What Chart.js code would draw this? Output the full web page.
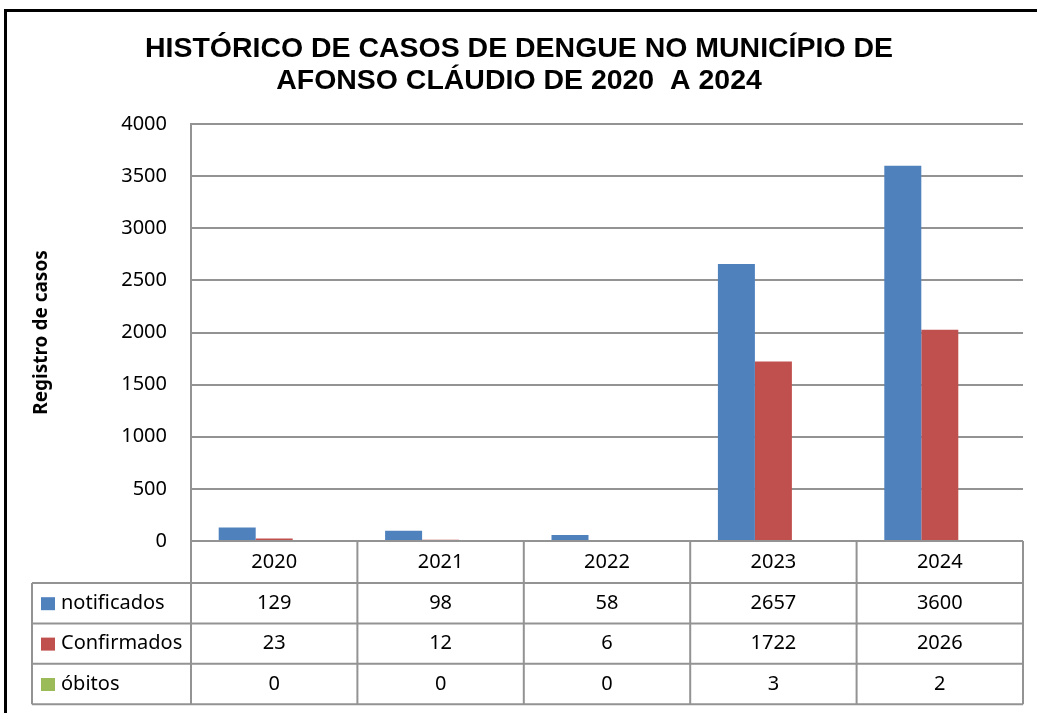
<!DOCTYPE html>
<html><head><meta charset="utf-8">
<script src="https://cdn.jsdelivr.net/npm/chart.js@4"></script>
<style>html,body{margin:0;padding:0;background:#fff}#wrap{width:1037px;height:713px;position:relative}</style>
</head><body><div id="wrap"><canvas id="c" width="1037" height="713"></canvas></div>
<script>
const titleLines = ["HISTÓRICO DE CASOS DE DENGUE NO MUNICÍPIO DE", "AFONSO CLÁUDIO DE 2020  A 2024"];
const yAxisTitle = "Registro de casos";
const years = ["2020", "2021", "2022", "2023", "2024"];
const seriesNames = ["notificados", "Confirmados", "óbitos"];
const notificados = [129, 98, 58, 2657, 3600];
const confirmados = [23, 12, 6, 1722, 2026];
const obitos = [0, 0, 0, 3, 2];
const seriesColors = ["#4F81BD", "#C0504D", "#9BBB59"];
const yMin = 0, yMax = 4000, yStep = 500;

const seriesValues = [notificados, confirmados, obitos];
const GRID = "#939393";
const TXT = "#000";
const FONT = '"Noto Sans", "Open Sans", sans-serif';

const framePlugin = {
  id: 'frame',
  beforeDraw(chart) {
    const ctx = chart.ctx;
    ctx.save();
    ctx.fillStyle = '#fff';
    ctx.fillRect(0, 0, chart.width, chart.height);
    ctx.fillStyle = '#000';
    ctx.fillRect(4, 9, chart.width - 4, 3);
    ctx.fillRect(4, 9, 3, chart.height - 9);
    ctx.font = 'bold 28px "Liberation Sans", Arial, sans-serif';
    ctx.textAlign = 'left';
    ctx.textBaseline = 'alphabetic';
    const w1 = ctx.measureText(titleLines[0]).width;
    const sx = 748 / w1;
    const baselines = [57, 89];
    const cx = 519;
    titleLines.forEach((t, i) => {
      const w = ctx.measureText(t).width * sx;
      ctx.save();
      ctx.translate(cx - w / 2, baselines[i]);
      ctx.scale(sx, 1);
      ctx.fillText(t, 0, 0);
      ctx.restore();
    });
    ctx.restore();
  }
};

const tablePlugin = {
  id: 'table',
  afterDraw(chart) {
    const ctx = chart.ctx;
    const ca = chart.chartArea;
    const x = chart.scales.x;
    const n = years.length;
    const colW = (ca.right - ca.left) / n;
    const headerBottom = ca.bottom + 42;
    const rowH = 40.4;
    const tableBottom = headerBottom + rowH * seriesNames.length;
    const leftEdge = 32;
    ctx.save();
    ctx.strokeStyle = GRID;
    ctx.lineWidth = 2;
    ctx.beginPath();
    for (let i = 0; i <= n; i++) {
      const px = (i < n ? x.getPixelForValue(i) - colW / 2 : x.getPixelForValue(n - 1) + colW / 2);
      ctx.moveTo(px, ca.bottom);
      ctx.lineTo(px, tableBottom);
    }
    ctx.moveTo(leftEdge, headerBottom);
    ctx.lineTo(leftEdge, tableBottom);
    ctx.moveTo(ca.left, ca.bottom);
    ctx.lineTo(ca.right, ca.bottom);
    for (let r = 0; r <= seriesNames.length; r++) {
      const py = headerBottom + r * rowH;
      ctx.moveTo(leftEdge, py);
      ctx.lineTo(ca.right, py);
    }
    ctx.stroke();

    ctx.fillStyle = TXT;
    ctx.font = '20px ' + FONT;
    ctx.textAlign = 'center';
    ctx.textBaseline = 'middle';
    years.forEach((yr, i) => {
      ctx.fillText(yr, x.getPixelForValue(i), (ca.bottom + headerBottom) / 2);
    });
    seriesNames.forEach((name, r) => {
      const cy = headerBottom + r * rowH + rowH / 2;
      ctx.fillStyle = seriesColors[r];
      ctx.fillRect(41, cy - 6, 14, 13);
      ctx.fillStyle = TXT;
      ctx.textAlign = 'left';
      ctx.fillText(name, 61, cy);
      ctx.textAlign = 'center';
      seriesValues[r].forEach((v, i) => {
        ctx.fillText(String(v), x.getPixelForValue(i), cy);
      });
    });
    ctx.restore();
  }
};

new Chart(document.getElementById('c'), {
  type: 'bar',
  data: {
    labels: years,
    datasets: seriesNames.map((name, i) => ({
      label: name,
      data: seriesValues[i],
      backgroundColor: seriesColors[i],
      borderWidth: 0,
      categoryPercentage: 0.667,
      barPercentage: 1.0
    }))
  },
  options: {
    responsive: false,
    animation: false,
    devicePixelRatio: 1,
    layout: { padding: { left: 0, top: 124, right: 14, bottom: 172 } },
    plugins: {
      legend: { display: false },
      title: { display: false },
      tooltip: { enabled: false }
    },
    scales: {
      x: { display: false, offset: true },
      y: {
        min: yMin, max: yMax,
        ticks: { stepSize: yStep, padding: 24, color: TXT, font: { family: FONT, size: 20 },
                 callback: (v) => String(v) },
        grid: { color: GRID, lineWidth: 2, drawTicks: false },
        border: { color: GRID, width: 2 },
        title: {
          display: true, text: yAxisTitle, color: '#000',
          font: { family: FONT, size: 19, weight: 'bold' },
          padding: { top: 30, bottom: 0 }
        },
        afterFit(scale) { scale.width = 191; }
      }
    }
  },
  plugins: [framePlugin, tablePlugin]
});
</script>
</body></html>
